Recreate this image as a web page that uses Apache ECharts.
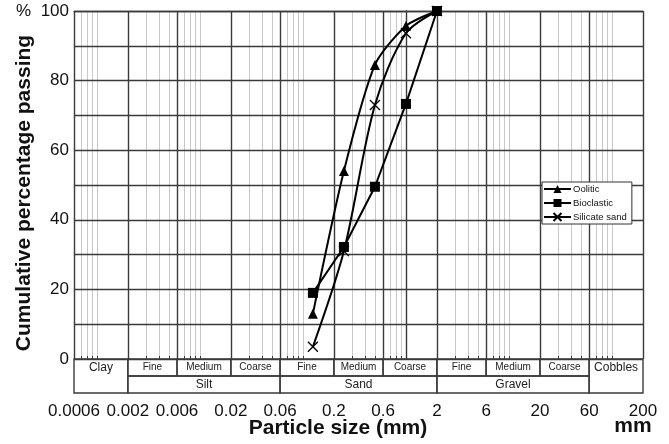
<!DOCTYPE html>
<html>
<head>
<meta charset="utf-8">
<script src="https://cdn.jsdelivr.net/npm/echarts@6/dist/echarts.min.js"></script>
<style>
html,body{margin:0;padding:0;background:#fff}
#main{width:669px;height:444px}
</style>
</head>
<body>
<div id="main"></div>
<script>
// sieve sizes (mm) and cumulative % passing
var sieveSizes = [0.125, 0.25, 0.5, 1, 2];
var oolitic = [13, 54, 84.5, 95.7, 100];
var bioclastic = [19, 32.2, 49.5, 73.3, 100];
var silicate = [3.5, 31, 73, 93.6, 100];

var tickValues = [0.0006, 0.002, 0.006, 0.02, 0.06, 0.2, 0.6, 2, 6, 20, 60, 200];
var tickLabels = ['0.0006', '0.002', '0.006', '0.02', '0.06', '0.2', '0.6', '2', '6', '20', '60', '200'];
var fractionNames = ['Clay', 'Fine', 'Medium', 'Coarse', 'Fine', 'Medium', 'Coarse', 'Fine', 'Medium', 'Coarse', 'Cobbles'];
var groupNames = ['Silt', 'Sand', 'Gravel'];
var groupLimits = [[0.002, 0.06], [0.06, 2], [2, 60]];

var FONT = '"Liberation Sans", Arial, Helvetica, sans-serif';
var DARK = '#3a3a3a';

function lg(v) { return Math.log10(v); }
function pts(arr) { return sieveSizes.map(function (s, i) { return [lg(s), arr[i]]; }); }

var majorValues = tickValues.map(lg);
var minorValues = [];
[-4, -3, -2, -1, 0, 1, 2].forEach(function (k) {
    [3, 4, 5, 7, 8, 9, 10].forEach(function (m) {
        var v = m * Math.pow(10, k);
        if (v > 0.0006 && v < 200) minorValues.push(lg(v));
    });
});

// classification band cells
var cells = [];
fractionNames.forEach(function (n, i) {
    var big = (i === 0 || i === fractionNames.length - 1);
    cells.push({ name: n, x0: tickValues[i], x1: tickValues[i + 1], r0: 0, r1: big ? 2 : 1, size: big ? 12 : 10 });
});
groupNames.forEach(function (n, i) {
    cells.push({ name: n, x0: groupLimits[i][0], x1: groupLimits[i][1], r0: 1, r1: 2, size: 12 });
});

function tickLabel(v) {
    for (var i = 0; i < majorValues.length; i++) {
        if (Math.abs(majorValues[i] - v) < 1e-6) return tickLabels[i];
    }
    return '';
}

var xBase = { type: 'value', min: lg(0.0006), max: lg(200) };

var chart = echarts.init(document.getElementById('main'));
chart.setOption({
    animation: false,
    backgroundColor: '#fff',
    grid: [
        { left: 74, right: 26, top: 11, height: 348 },
        { left: 74, right: 26, top: 359, height: 34 }
    ],
    xAxis: [
        Object.assign({}, xBase, {
            gridIndex: 0, z: 0,
            axisLine: { show: false },
            axisTick: { show: true, inside: true, length: 3, customValues: minorValues, lineStyle: { color: DARK, width: 1 } },
            axisLabel: { show: false },
            splitLine: { show: true, lineStyle: { color: '#c9c9c9', width: 1 } }
        }),
        Object.assign({}, xBase, {
            gridIndex: 0, z: 1,
            axisLine: { show: true, lineStyle: { color: DARK, width: 1.4 } },
            axisTick: { show: false, customValues: majorValues },
            axisLabel: { show: false },
            splitLine: { show: true, lineStyle: { color: DARK, width: 1.4 } }
        }),
        Object.assign({}, xBase, {
            gridIndex: 1,
            axisLine: { show: false },
            axisTick: { show: false, customValues: majorValues },
            splitLine: { show: false },
            axisLabel: {
                show: true, customValues: majorValues, margin: 10,
                color: '#111', fontSize: 17, fontFamily: FONT,
                formatter: tickLabel
            }
        })
    ],
    yAxis: [
        {
            type: 'value', gridIndex: 0, min: 0, max: 100, interval: 10, z: 1,
            axisLine: { show: true, lineStyle: { color: DARK, width: 1.4 } },
            axisTick: { show: false },
            splitLine: { show: true, lineStyle: { color: DARK, width: 1.4 } },
            axisLabel: {
                margin: 5, color: '#111', fontSize: 17, fontFamily: FONT,
                formatter: function (v) {
                    if (v === 100) return '%  100';
                    return v % 20 === 0 ? String(v) : '';
                }
            }
        },
        {
            type: 'value', gridIndex: 1, min: 0, max: 2, inverse: true,
            axisLine: { show: false }, axisTick: { show: false },
            axisLabel: { show: false }, splitLine: { show: false }
        }
    ],
    legend: {
        orient: 'vertical', left: 542, top: 182,
        data: ['Oolitic', 'Bioclastic', 'Silicate sand'],
        itemWidth: 27, itemHeight: 10, itemGap: 4,
        padding: [2, 5, 2, 1],
        backgroundColor: '#fff', borderColor: '#333', borderWidth: 1,
        textStyle: { fontSize: 9.5, fontFamily: FONT, color: '#111', padding: [0, 0, 0, -3] }
    },
    graphic: [
        {
            type: 'text', x: 24, y: 193, rotation: Math.PI / 2,
            style: { text: 'Cumulative percentage passing', fontSize: 21, fontWeight: 'bold', fontFamily: FONT, fill: '#111', align: 'center', verticalAlign: 'middle' }
        },
        {
            type: 'text', x: 338, y: 428,
            style: { text: 'Particle size (mm)', fontSize: 21, fontWeight: 'bold', fontFamily: FONT, fill: '#111', align: 'center', verticalAlign: 'middle' }
        },
        {
            type: 'text', x: 633, y: 426,
            style: { text: 'mm', fontSize: 21, fontWeight: 'bold', fontFamily: FONT, fill: '#111', align: 'center', verticalAlign: 'middle' }
        }
    ],
    series: [
        {
            name: 'Oolitic', type: 'line', xAxisIndex: 1, yAxisIndex: 0, z: 5,
            data: pts(oolitic), smooth: 0.25,
            symbol: 'triangle', symbolSize: 10,
            lineStyle: { color: '#000', width: 2 },
            itemStyle: { color: '#000' }
        },
        {
            name: 'Bioclastic', type: 'line', xAxisIndex: 1, yAxisIndex: 0, z: 5,
            data: pts(bioclastic),
            symbol: 'rect', symbolSize: 10,
            lineStyle: { color: '#000', width: 2 },
            itemStyle: { color: '#000' }
        },
        {
            name: 'Silicate sand', type: 'line', xAxisIndex: 1, yAxisIndex: 0, z: 5,
            data: pts(silicate), smooth: 0.3,
            symbol: 'path://M0,0L10,10M10,0L0,10', symbolSize: 10,
            lineStyle: { color: '#000', width: 2 },
            itemStyle: { color: '#000', borderColor: '#000', borderWidth: 1.3 }
        },
        {
            name: 'classes', type: 'custom', xAxisIndex: 2, yAxisIndex: 1,
            encode: { x: [0, 1], y: [2, 3] },
            data: cells.map(function (c) { return [lg(c.x0), lg(c.x1), c.r0, c.r1]; }),
            renderItem: function (params, api) {
                var c = cells[params.dataIndex];
                var p0 = api.coord([api.value(0), api.value(2)]);
                var p1 = api.coord([api.value(1), api.value(3)]);
                var ty = api.coord([api.value(0), c.r0 + 0.5])[1];
                return {
                    type: 'group',
                    children: [
                        {
                            type: 'rect',
                            shape: { x: p0[0], y: p0[1], width: p1[0] - p0[0], height: p1[1] - p0[1] },
                            style: { fill: 'none', stroke: DARK, lineWidth: 1.4 }
                        },
                        {
                            type: 'text',
                            style: {
                                text: c.name, x: (p0[0] + p1[0]) / 2, y: ty,
                                align: 'center', verticalAlign: 'middle',
                                fontSize: c.size, fontFamily: FONT, fill: '#222'
                            }
                        }
                    ]
                };
            }
        }
    ]
});
</script>
</body>
</html>
